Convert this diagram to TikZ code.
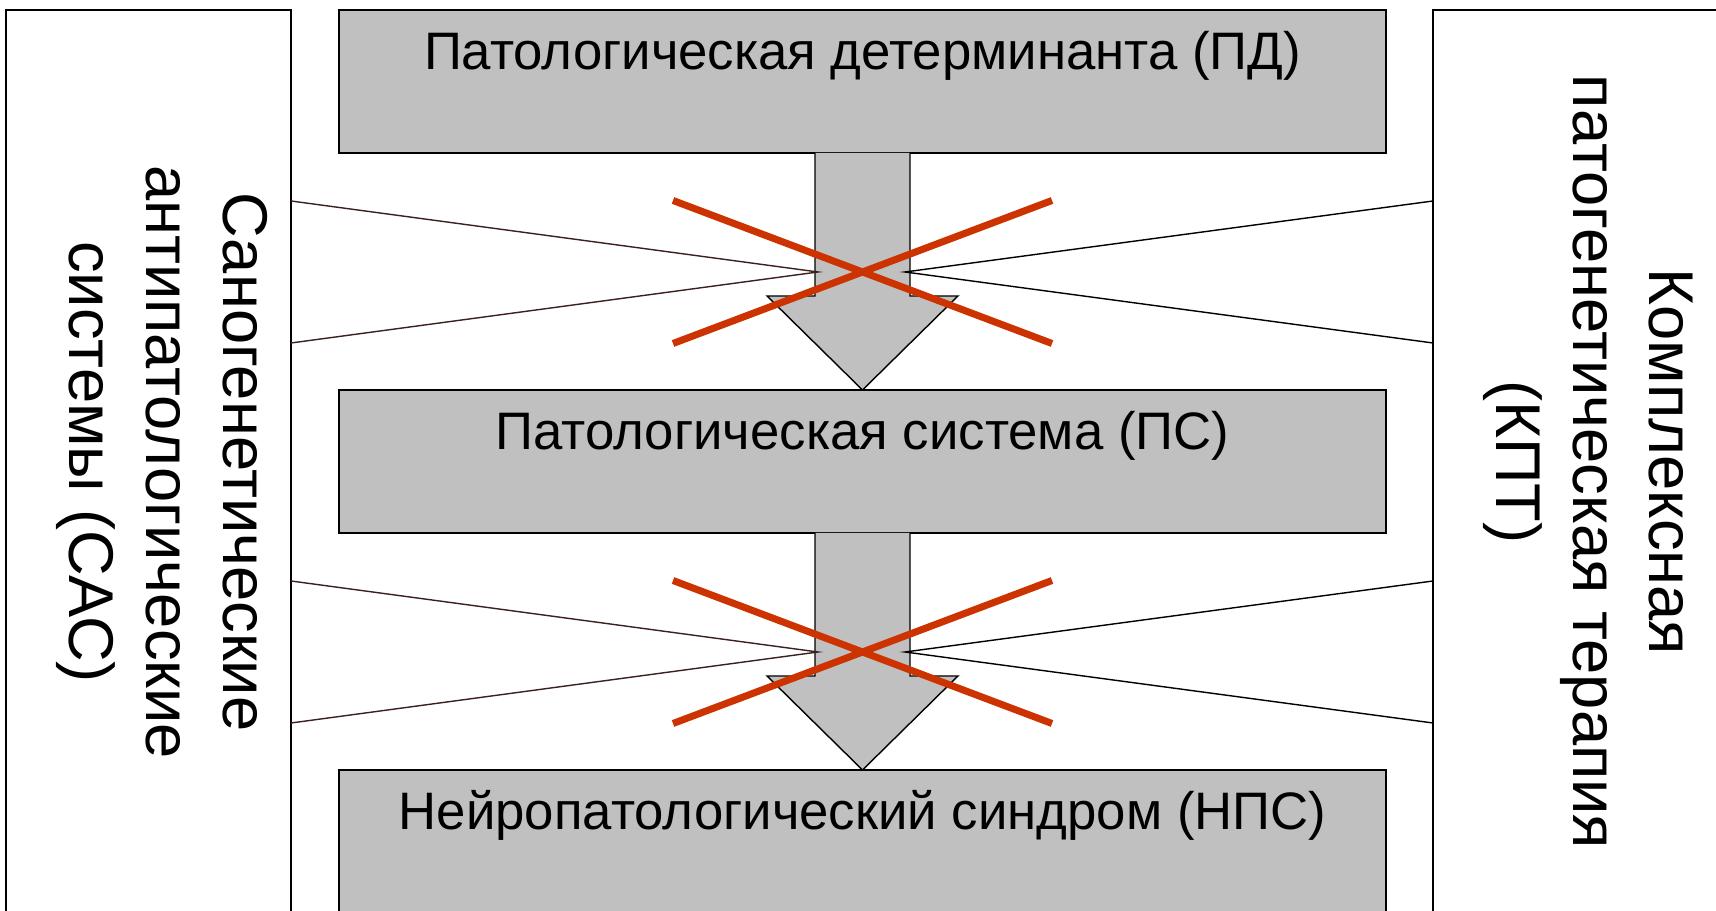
\documentclass[tikz,border=0pt]{standalone}
\usepackage{fontspec}
\setmainfont{Liberation Sans}
\usetikzlibrary{positioning}

\definecolor{boxgrey}{RGB}{192,192,192}
\definecolor{crossred}{RGB}{204,51,0}
\definecolor{spokebrown}{RGB}{60,32,32}

\begin{document}
\begin{tikzpicture}
	[%
	greybox/.style ={rectangle,	draw=black,	fill=boxgrey,	line width=1pt,	inner sep=0pt,	outer sep=0pt,	minimum width=20.94cm,	minimum height=2.86cm},%
	sidebox/.style ={rectangle,	draw=black,	fill=white,	line width=1pt,	inner sep=0pt,	outer sep=0pt,	minimum height=22cm},%
	boxtext/.style ={font=\fontsize{30}{36}\selectfont,	inner sep=0pt},%
	sidetext/.style={font=\fontsize{36}{43.6}\selectfont,	align=center,	rotate=-90,	inner sep=0pt},%
	fatarrow/.style={draw=black,	fill=boxgrey,	line width=0.8pt,	line join=miter},%
	spoke/.style   ={line width=0.8pt},%
	cross/.style   ={draw=crossred,	line width=4pt},%
	]

	\useasboundingbox (0,0) rectangle (34.32,18.22);
	\clip (0,0) rectangle (34.32,18.22);

	% side boxes
	\node (sas) at (0.12,18.02)  [sidebox, anchor=north west, minimum width=5.70cm] {};
	\node (kpt) at (28.66,18.02) [sidebox, anchor=north west, minimum width=8cm] {};

	% main chain
	\node (pd)  at (17.25,18.02) [greybox, anchor=north] {};
	\node (ps)  [greybox, below=4.74cm of pd] {};
	\node (nps) [greybox, below=4.74cm of ps, minimum height=5cm] {};

	\foreach \nd/\txt in {pd/Патологическая детерминанта (ПД), ps/Патологическая система (ПС), nps/Нейропатологический синдром (НПС)}
		\node (\nd-text) at ([yshift=-1.2cm]\nd.north) [boxtext, anchor=base] {\txt};

	% side labels
	\node (sas-text) at (3.24,8.98)  [sidetext] {Саногенетические\\антипатологические\\системы (САС)};
	\node (kpt-text) at (31.77,8.98) [sidetext] {Комплексная\\патогенетическая терапия\\(КПТ)};

	% fat arrows
	\foreach \src/\dst in {pd/ps, ps/nps}
		\draw [fatarrow] ([xshift=-0.95cm]\src.south) -- ++(0,-2.86) -- ++(-0.96,0) -- (\dst.north)
			-- ++(1.91,1.88) -- ++(-0.96,0) -- ([xshift=0.95cm]\src.south);

	% spokes and crosses
	\foreach \src in {pd, ps} {
		\coordinate (\src-mid)  at ([yshift=-2.38cm]\src.south);
		\coordinate (\src-hubl) at ([xshift=-0.89cm]\src-mid);
		\coordinate (\src-hubr) at ([xshift=0.85cm]\src-mid);
		\coordinate (\src-sl) at (sas.east |- \src-mid);
		\coordinate (\src-sr) at (kpt.west |- \src-mid);

		\draw [spoke, spokebrown] ([yshift=1.42cm]\src-sl) -- (\src-hubl) -- ([yshift=-1.42cm]\src-sl);
		\draw [spoke] ([yshift=1.42cm]\src-sr) -- (\src-hubr) -- ([yshift=-1.42cm]\src-sr);

		\draw [cross] ([shift={(-3.79,1.43)}]\src-mid) -- ([shift={(3.79,-1.43)}]\src-mid);
		\draw [cross] ([shift={(-3.79,-1.43)}]\src-mid) -- ([shift={(3.79,1.43)}]\src-mid);
	}

\end{tikzpicture}
\end{document}
